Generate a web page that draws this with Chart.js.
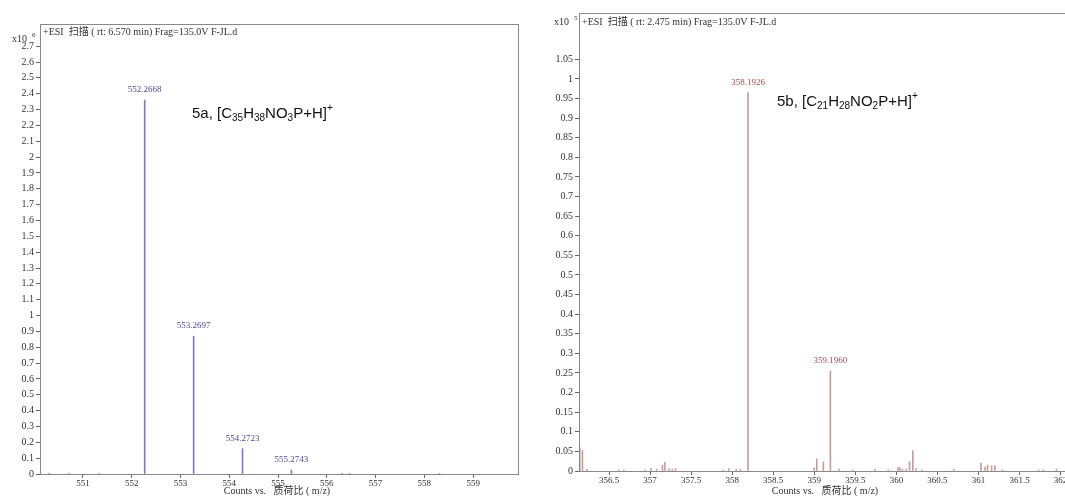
<!DOCTYPE html>
<html>
<head>
<meta charset="utf-8">
<script src="https://cdn.jsdelivr.net/npm/chart.js@4.4.1/dist/chart.umd.min.js"></script>
<style>
html, body { margin: 0; padding: 0; background: #fff; overflow: hidden; width: 1065px; height: 496px; }
#chartA { position: absolute; left: 0; top: 0; }
#chartB { position: absolute; left: 540px; top: 0; }
</style>
</head>
<body>
<canvas id="chartA" width="530" height="496"></canvas>
<canvas id="chartB" width="545" height="496"></canvas>
<script>
// 5a spectrum (x10^6 counts)
const mzA = [550.31, 550.72, 551.33, 552.2668, 553.2697, 554.2723, 555.2743, 556.31, 556.47, 558.31];
const intA = [0.004, 0.003, 0.004, 2.36, 0.87, 0.16, 0.025, 0.004, 0.003, 0.003];
const peakLabelsA = ['552.2668', '553.2697', '554.2723', '555.2743'];
const xTicksA = [551, 552, 553, 554, 555, 556, 557, 558, 559];
const yTicksA = [0, 0.1, 0.2, 0.3, 0.4, 0.5, 0.6, 0.7, 0.8, 0.9, 1, 1.1, 1.2, 1.3, 1.4, 1.5, 1.6, 1.7, 1.8, 1.9, 2, 2.1, 2.2, 2.3, 2.4, 2.5, 2.6, 2.7];

// 5b spectrum (x10^5 counts)
const mzB = [356.143, 356.176, 356.23, 356.62, 356.68, 356.94, 357.01, 357.08, 357.15, 357.18, 357.23, 357.27, 357.31,
  357.89, 357.96, 358.05, 358.10, 358.1926, 359.0, 359.03, 359.11, 359.1960, 359.30, 359.47, 359.74, 359.90,
  360.02, 360.04, 360.07, 360.12, 360.16, 360.20, 360.24, 360.31, 360.70, 361.03, 361.08, 361.11, 361.16, 361.20,
  361.29, 361.73, 361.79, 361.95];
const intB = [0.06, 0.052, 0.004, 0.003, 0.003, 0.003, 0.006, 0.004, 0.015, 0.023, 0.006, 0.004, 0.006,
  0.003, 0.006, 0.004, 0.004, 0.965, 0.008, 0.031, 0.023, 0.255, 0.005, 0.003, 0.005, 0.003,
  0.008, 0.009, 0.005, 0.005, 0.024, 0.052, 0.006, 0.003, 0.004, 0.02, 0.01, 0.015, 0.013, 0.013,
  0.003, 0.003, 0.003, 0.005];
const peakLabelsB = ['358.1926', '359.1960'];
const xTicksB = [356.5, 357, 357.5, 358, 358.5, 359, 359.5, 360, 360.5, 361, 361.5, 362];
const yTicksB = [0, 0.05, 0.1, 0.15, 0.2, 0.25, 0.3, 0.35, 0.4, 0.45, 0.5, 0.55, 0.6, 0.65, 0.7, 0.75, 0.8, 0.85, 0.9, 0.95, 1, 1.05];

const serif = "'Liberation Serif', 'Noto Sans CJK SC', serif";

// frame, header, exponent, axis title, peak labels and formula
const decor = {
  id: 'decor',
  afterDraw(chart, args, o) {
    const c = chart.ctx, a = chart.chartArea;
    const xs = chart.scales.x, ys = chart.scales.y;
    const ds = chart.data.datasets[0].data;
    c.save();
    c.strokeStyle = '#888';
    c.lineWidth = 1;
    c.strokeRect(Math.round(a.left) + 0.5, Math.round(a.top) + 0.5, Math.round(a.right - a.left), Math.round(a.bottom - a.top));

    c.fillStyle = '#333';
    c.textBaseline = 'middle';
    c.font = '10px ' + serif;
    c.fillText(o.header, a.left + 3, a.top + o.headerDy);
    c.fillText('x10', o.expX, a.top + o.expDy);
    c.font = '7px ' + serif;
    c.fillText(o.exp, o.expX + 20, a.top + o.expDy - 4);

    c.font = '10px ' + serif;
    c.textAlign = 'center';
    c.fillText(o.xTitle, o.xTitleX, 491);

    c.fillStyle = o.labelColor;
    c.font = '9px ' + serif;
    c.textBaseline = 'alphabetic';
    o.peaks.forEach(t => {
      const p = ds.find(d => Math.abs(d.x - parseFloat(t)) < 1e-6);
      if (!p) return;
      c.fillText(t, xs.getPixelForValue(p.x), ys.getPixelForValue(p.y) - 8);
    });

    // formula with sub/superscripts
    c.fillStyle = '#111';
    c.textAlign = 'left';
    c.textBaseline = 'middle';
    let x = o.formulaX;
    o.formula.forEach(([s, k]) => {
      c.font = (k === 0 ? '15px' : '10px') + " 'Liberation Sans', Arial, sans-serif";
      const dy = k < 0 ? 4 : (k > 0 ? -6 : 0);
      c.fillText(s, x, o.formulaY + dy);
      x += c.measureText(s).width;
    });
    c.restore();
  }
};

function spectrum(id, mz, inten, xTicks, yTicks, opt) {
  const tickFont = { family: serif, size: 10 };
  return new Chart(document.getElementById(id), {
    type: 'bar',
    data: {
      datasets: [{
        data: mz.map((m, i) => ({ x: m, y: inten[i] })),
        backgroundColor: opt.color,
        borderWidth: 0,
        barThickness: 1
      }]
    },
    options: {
      responsive: false,
      animation: false,
      layout: { padding: { top: opt.top, right: opt.right, left: 0, bottom: 0 } },
      plugins: { legend: { display: false }, tooltip: { enabled: false }, decor: opt.decor },
      scales: {
        x: {
          type: 'linear',
          offset: false,
          min: opt.xMin, max: opt.xMax,
          afterBuildTicks: s => { s.ticks = xTicks.map(v => ({ value: v })); },
          afterFit: s => { s.height = opt.xHeight; },
          ticks: { font: { family: serif, size: 9 }, color: '#333', maxRotation: 0, padding: 0, callback: v => String(v) },
          grid: { offset: false, drawOnChartArea: false, tickLength: 4, color: '#666' },
          border: { color: '#666' }
        },
        y: {
          min: 0, max: opt.yMax,
          afterBuildTicks: s => { s.ticks = yTicks.map(v => ({ value: v })); },
          afterFit: s => { s.width = opt.yWidth; },
          ticks: { font: tickFont, color: '#333', padding: 2, callback: v => String(v) },
          grid: { drawOnChartArea: false, tickLength: 4, color: '#666' },
          border: { color: '#666' }
        }
      }
    },
    plugins: [decor]
  });
}

spectrum('chartA', mzA, intA, xTicksA, yTicksA, {
  color: '#7c7cc8', xMin: 550.12, xMax: 559.92, yMax: 2.84,
  top: 24, right: 12, xHeight: 22, yWidth: 40,
  decor: {
    header: '+ESI  扫描 ( rt: 6.570 min) Frag=135.0V F-JL.d', headerDy: 8,
    exp: '6', expX: 12, expDy: 15,
    xTitle: 'Counts vs.   质荷比 ( m/z)', xTitleX: 277,
    labelColor: '#4a4a9a', peaks: peakLabelsA,
    formula: [['5a, [C', 0], ['35', -1], ['H', 0], ['38', -1], ['NO', 0], ['3', -1], ['P+H]', 0], ['+', 1]],
    formulaX: 192, formulaY: 114
  }
});

spectrum('chartB', mzB, intB, xTicksB, yTicksB, {
  color: '#c99c9c', xMin: 356.134, xMax: 362.2, yMax: 1.168,
  top: 13, right: 8, xHeight: 25, yWidth: 39,
  decor: {
    header: '+ESI  扫描 ( rt: 2.475 min) Frag=135.0V F-JL.d', headerDy: 9,
    exp: '5', expX: 14, expDy: 9,
    xTitle: 'Counts vs.   质荷比 ( m/z)', xTitleX: 285,
    labelColor: '#a84c4c', peaks: peakLabelsB,
    formula: [['5b, [C', 0], ['21', -1], ['H', 0], ['28', -1], ['NO', 0], ['2', -1], ['P+H]', 0], ['+', 1]],
    formulaX: 237, formulaY: 102
  }
});
</script>
</body>
</html>
